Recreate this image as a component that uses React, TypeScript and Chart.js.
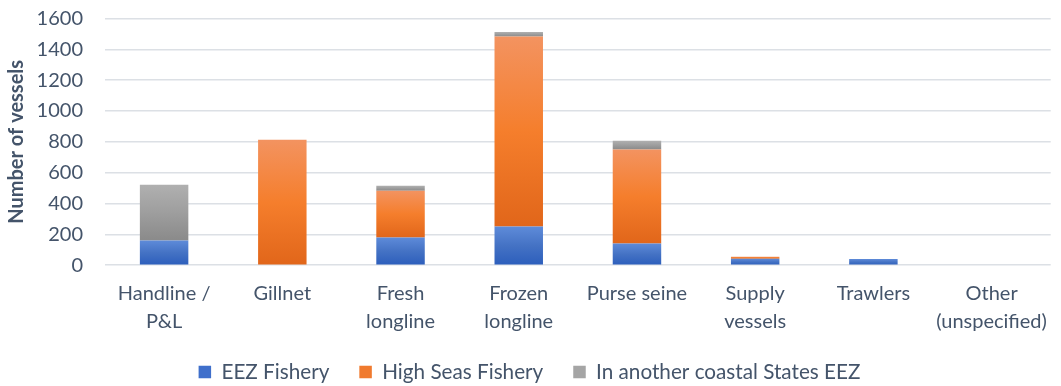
import React, { useEffect, useRef } from "react";
import { Chart, registerables } from "chart.js";

Chart.register(...registerables);

const categories: (string | string[])[] = [
  ["Handline /", "P&L"],
  "Gillnet",
  ["Fresh", "longline"],
  ["Frozen", "longline"],
  "Purse seine",
  ["Supply", "vessels"],
  "Trawlers",
  ["Other", "(unspecified)"],
];
const eezFishery = [160, 0, 180, 250, 141, 42, 40, 0];
const highSeasFishery = [0, 813, 303, 1233, 609, 13, 0, 0];
const otherCoastalEez = [362, 0, 32, 30, 57, 0, 0, 0];
const seriesNames = ["EEZ Fishery", "High Seas Fishery", "In another coastal States EEZ"];
const yMax = 1600;
const yStep = 200;

const seriesList = [eezFishery, highSeasFishery, otherCoastalEez];
const gradients = [
  ["#5E8BD9", "#4472C4", "#2C5EBC"],
  ["#F39360", "#F57E2C", "#E1661A"],
  ["#B0B0B0", "#9E9E9E", "#8A8A8A"],
];
const solid = ["#3F6FCB", "#F07A2E", "#A5A5A5"];

const FONT = "Lato";
const TEXT = "#44546A";
const GRID = "#DCE0E5";

function gradientFill(dsIndex: number) {
  return (ctx: any) => {
    const stops = gradients[dsIndex];
    const chart = ctx.chart;
    const scales = chart.scales;
    if (ctx.type !== "data" || !scales || !scales.y) return stops[1];
    const i = ctx.dataIndex;
    let start = 0;
    for (let d = 0; d < dsIndex; d++) start += seriesList[d][i];
    const end = start + seriesList[dsIndex][i];
    const y0 = scales.y.getPixelForValue(end);
    const y1 = scales.y.getPixelForValue(start);
    if (!isFinite(y0) || !isFinite(y1) || y1 - y0 < 1) return stops[1];
    const g = chart.ctx.createLinearGradient(0, y0, 0, y1);
    g.addColorStop(0, stops[0]);
    g.addColorStop(0.5, stops[1]);
    g.addColorStop(1, stops[2]);
    return g;
  };
}

export default function App() {
  const ref = useRef<HTMLCanvasElement>(null);
  useEffect(() => {
    document.body.style.margin = "0";
    const canvas = ref.current!;
    const chart = new Chart(canvas, {
      type: "bar",
      data: {
        labels: categories,
        datasets: seriesList.map((data, k) => ({
          label: seriesNames[k],
          data,
          backgroundColor: gradientFill(k),
          borderWidth: 0,
          barPercentage: 0.41,
          categoryPercentage: 1,
        })),
      },
      options: {
        animation: false,
        responsive: false,
        devicePixelRatio: 1,
        layout: { padding: { top: 18.5, right: 2, left: 0, bottom: -6.35 } },
        scales: {
          x: {
            stacked: true,
            grid: { display: false, drawTicks: false },
            border: { display: false },
            ticks: {
              color: TEXT,
              font: { family: FONT, size: 20, lineHeight: 1.4 },
              padding: 14,
              maxRotation: 0,
              autoSkip: false,
            },
            afterFit: (s: any) => {
              s.height = 66.5;
            },
          },
          y: {
            stacked: true,
            min: 0,
            max: yMax,
            ticks: {
              stepSize: yStep,
              color: TEXT,
              font: { family: FONT, size: 20 },
              padding: 22,
              callback: (v: any) => String(v),
            },
            grid: { color: GRID, lineWidth: 1.5, drawTicks: false },
            border: { display: false },
            title: {
              display: true,
              text: "Number of vessels",
              color: TEXT,
              font: { family: FONT, size: 20, weight: "bold" },
              padding: { top: 5, bottom: 4 },
            },
            afterFit: (s: any) => {
              s.width = 105;
              s.paddingTop = 0;
              s.paddingBottom = 0;
            },
          },
        },
        plugins: {
          tooltip: { enabled: false },
          legend: {
            position: "bottom",
            labels: {
              color: TEXT,
              font: { family: FONT, size: 20.7 },
              boxWidth: 12.5,
              boxHeight: 12.5,
              padding: 30,
              generateLabels: (c: any) =>
                Chart.defaults.plugins.legend.labels
                  .generateLabels(c)
                  .map((l: any, k: number) => ({
                    ...l,
                    fillStyle: solid[k],
                    strokeStyle: solid[k],
                    lineWidth: 0,
                  })),
            },
          },
        },
      },
    });
    return () => chart.destroy();
  }, []);
  return (
    <div style={{ width: 1061, height: 386 }}>
      <canvas ref={ref} width={1061} height={386} style={{ display: "block" }} />
    </div>
  );
}
